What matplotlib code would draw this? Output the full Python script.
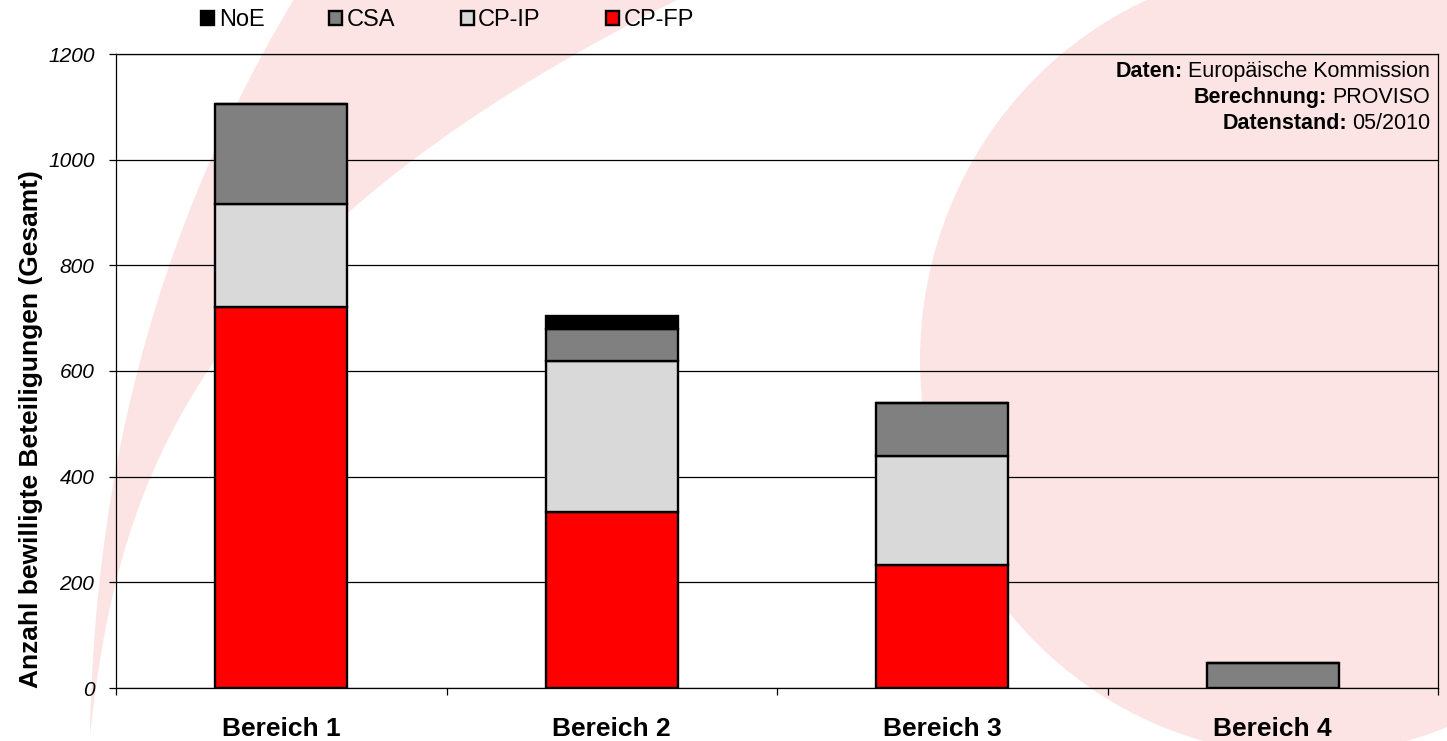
import numpy as np
import matplotlib
matplotlib.use("Agg")
import matplotlib.pyplot as plt
from matplotlib.patches import Ellipse, Polygon

plt.rcParams['font.family'] = ['Liberation Sans', 'DejaVu Sans']

# daten
bereiche = ["Bereich 1", "Bereich 2", "Bereich 3", "Bereich 4"]
cp_fp = [721, 333, 232, 0]
cp_ip = [196, 286, 208, 0]
csa = [189, 60, 100, 47]
noe = [0, 25, 0, 0]

serien = [("CP-FP", cp_fp, "#ff0000"),
          ("CP-IP", cp_ip, "#d9d9d9"),
          ("CSA", csa, "#808080"),
          ("NoE", noe, "#000000")]

W, H = 1447, 741
fig = plt.figure(figsize=(W / 100, H / 100), dpi=100)

# hintergrund (rosa formen), in pixeln der abbildung
bg = fig.add_axes([0, 0, 1, 1], zorder=0)
bg.set_xlim(0, W)
bg.set_ylim(H, 0)
bg.axis('off')
rosa = "#fde4e4"
bg.add_patch(Ellipse((1305, 360), 770, 790, color=rosa, lw=0))

links = np.array([(290, 0), (267, 53), (213, 160), (167, 267), (127, 400),
                  (113, 477), (106, 567), (92, 690), (88, 741)])
rechts = np.array([(680, 0), (573, 53), (413, 160), (348, 213), (193, 400),
                   (150, 477), (117, 567), (96, 690), (90, 741)])
yy = np.linspace(-5, 745, 200)
xl = np.polyval(np.polyfit(links[:, 1], links[:, 0], 3), yy)
xr = np.polyval(np.polyfit(rechts[:, 1], rechts[:, 0], 3), yy)
xr = np.maximum(xr, xl)
band = np.vstack([np.column_stack([xl, yy]), np.column_stack([xr, yy])[::-1]])
bg.add_patch(Polygon(band, closed=True, color=rosa, lw=0))

# diagramm
ax = fig.add_axes([116 / W, 1 - 688 / H, (1438 - 116) / W, (688 - 54) / H], zorder=1)
ax.set_facecolor('none')

x = np.arange(len(bereiche))
unten = np.zeros(len(bereiche))
balken = {}
for name, werte, farbe in serien:
    werte = np.array(werte, dtype=float)
    balken[name] = ax.bar(x, werte, 0.4, bottom=unten, color=farbe,
                          edgecolor='black', linewidth=1.7, label=name, zorder=3)
    unten += werte

ax.set_xlim(-0.5, 3.5)
ax.set_ylim(0, 1200)
ax.set_yticks(np.arange(0, 1201, 200))
ax.yaxis.grid(True, color='black', linewidth=0.9)
ax.set_axisbelow(True)
for s in ax.spines.values():
    s.set_color('black')
    s.set_linewidth(0.9)

ax.set_xticks(x)
ax.set_xticklabels(bereiche, fontsize=19, fontweight='bold')
ax.set_xticks(np.arange(-0.5, 3.6, 1), minor=True)
ax.tick_params(axis='x', which='major', length=0, pad=21)
ax.tick_params(axis='x', which='minor', length=5, width=0.9, direction='out')
ax.tick_params(axis='y', length=5, width=0.9, direction='out', pad=10.5)
for lab in ax.get_yticklabels():
    lab.set_fontsize(15)
    lab.set_fontstyle('italic')

fig.text(31 / W, 1 - 429 / H, "Anzahl bewilligte Beteiligungen (Gesamt)",
         rotation=90, ha='center', va='center', fontsize=19, fontweight='bold')

# legende
handles = [balken[n] for n in ["NoE", "CSA", "CP-IP", "CP-FP"]]
fig.legend(handles, ["NoE", "CSA", "CP-IP", "CP-FP"], loc='center left',
           bbox_to_anchor=(201 / W, 1 - 20 / H), ncol=4, frameon=False,
           fontsize=17, handlelength=0.55, handleheight=0.55, handletextpad=0.2,
           columnspacing=2.75, borderpad=0, borderaxespad=0)

# quellenangabe
renderer = fig.canvas.get_renderer()
quelle = [("Daten:", "Europäische Kommission"),
          ("Berechnung:", "PROVISO"),
          ("Datenstand:", "05/2010")]
for i, (fett, normal) in enumerate(quelle):
    yb = 1 - (77 + 26 * i) / H
    t = fig.text(1430 / W, yb, normal, ha='right', va='baseline', fontsize=15.5)
    bb = t.get_window_extent(renderer)
    fig.text((bb.x0 - 5) / W, yb, fett, ha='right', va='baseline',
             fontsize=15.5, fontweight='bold')

fig.savefig("out.png", dpi=100)
